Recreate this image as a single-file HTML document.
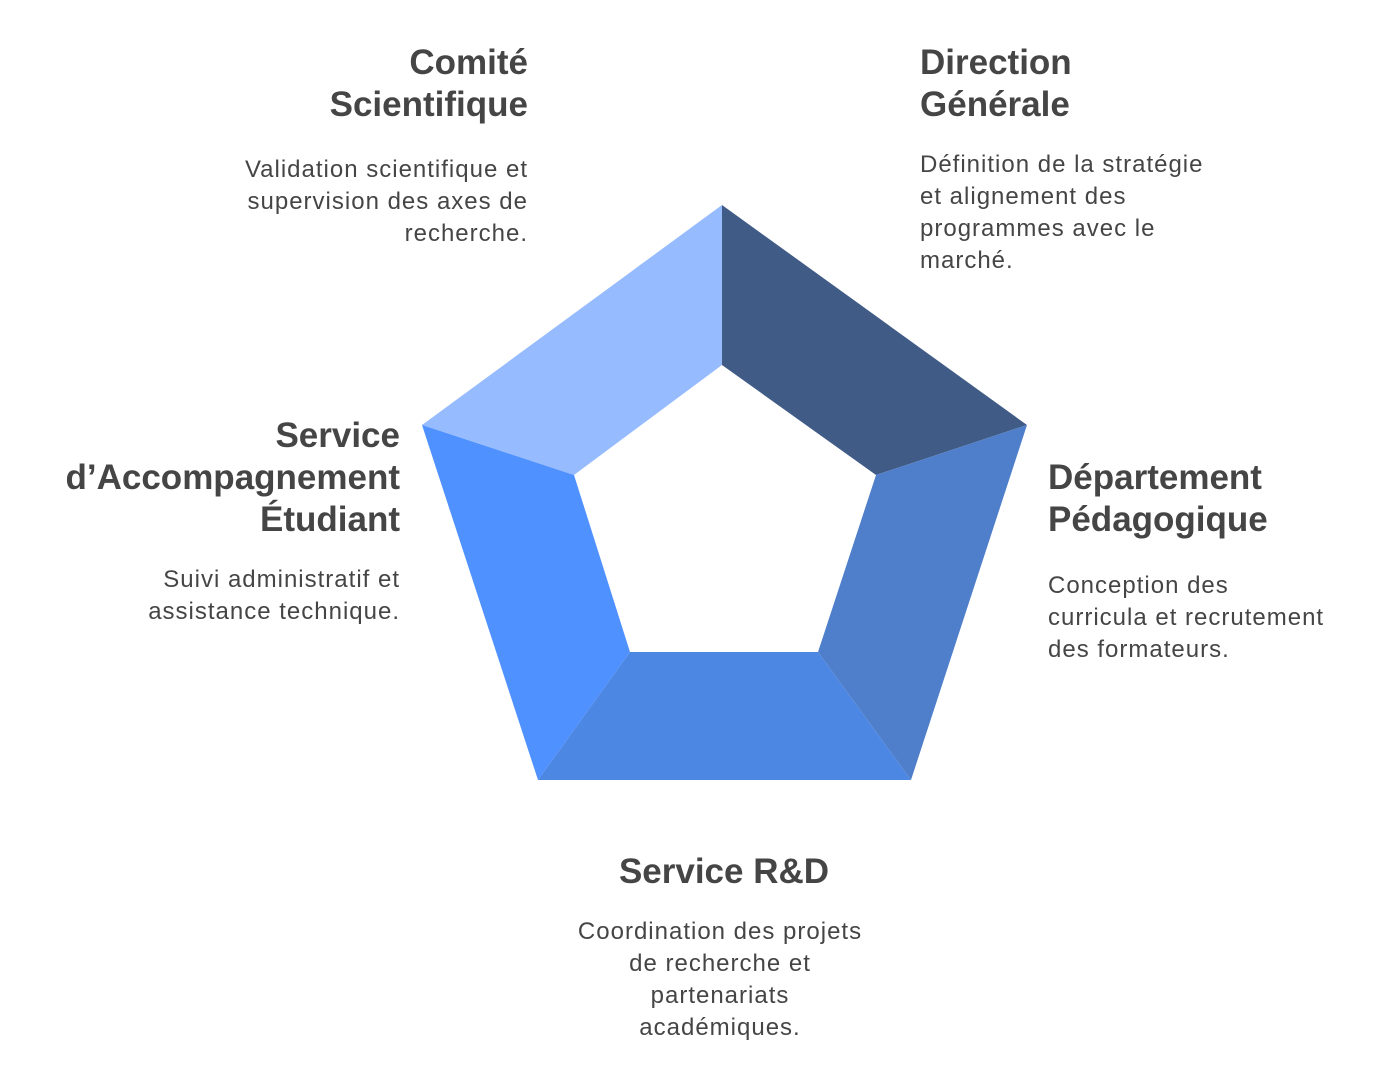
<!DOCTYPE html>
<html><head><meta charset="utf-8"><style>
body{margin:0;width:1384px;height:1086px;background:#fff;font-family:"Liberation Sans",Arial,sans-serif;color:#454545;position:relative;overflow:hidden}
.t{position:absolute;font-weight:bold;font-size:35px;line-height:42px}
.d{position:absolute;font-size:24px;letter-spacing:1px;line-height:32px}
.r{text-align:right}.c{text-align:center}
</style></head><body>
<svg width="1384" height="1086" style="position:absolute;left:0;top:0">
<polygon points="722,205 1027,425 876,475 722,365" fill="#415b87"/>
<polygon points="722,205 722,365 574,475 422,425" fill="#96bbfe"/>
<polygon points="422,425 574,475 630,652 538,780" fill="#4f91fe"/>
<polygon points="538,780 630,652 818,652 911,780" fill="#4d87e4"/>
<polygon points="911,780 818,652 876,475 1027,425" fill="#4f7fcb"/>
</svg>
<div class="t r" style="right:856px;top:42px">Comité<br>Scientifique</div>
<div class="d r" style="right:856px;top:154px">Validation scientifique et<br>supervision des axes de<br>recherche.</div>
<div class="t" style="left:920px;top:42px">Direction<br>Générale</div>
<div class="d" style="left:920px;top:149px">Définition de la stratégie<br>et alignement des<br>programmes avec le<br>marché.</div>
<div class="t r" style="right:984px;top:415px">Service<br>d’Accompagnement<br>Étudiant</div>
<div class="d r" style="right:984px;top:564px">Suivi administratif et<br>assistance technique.</div>
<div class="t" style="left:1048px;top:457px">Département<br>Pédagogique</div>
<div class="d" style="left:1048px;top:570px">Conception des<br>curricula et recrutement<br>des formateurs.</div>
<div class="t c" style="left:520px;width:408px;top:851px">Service R&amp;D</div>
<div class="d c" style="left:520px;width:400px;top:916px">Coordination des projets<br>de recherche et<br>partenariats<br>académiques.</div>
</body></html>
